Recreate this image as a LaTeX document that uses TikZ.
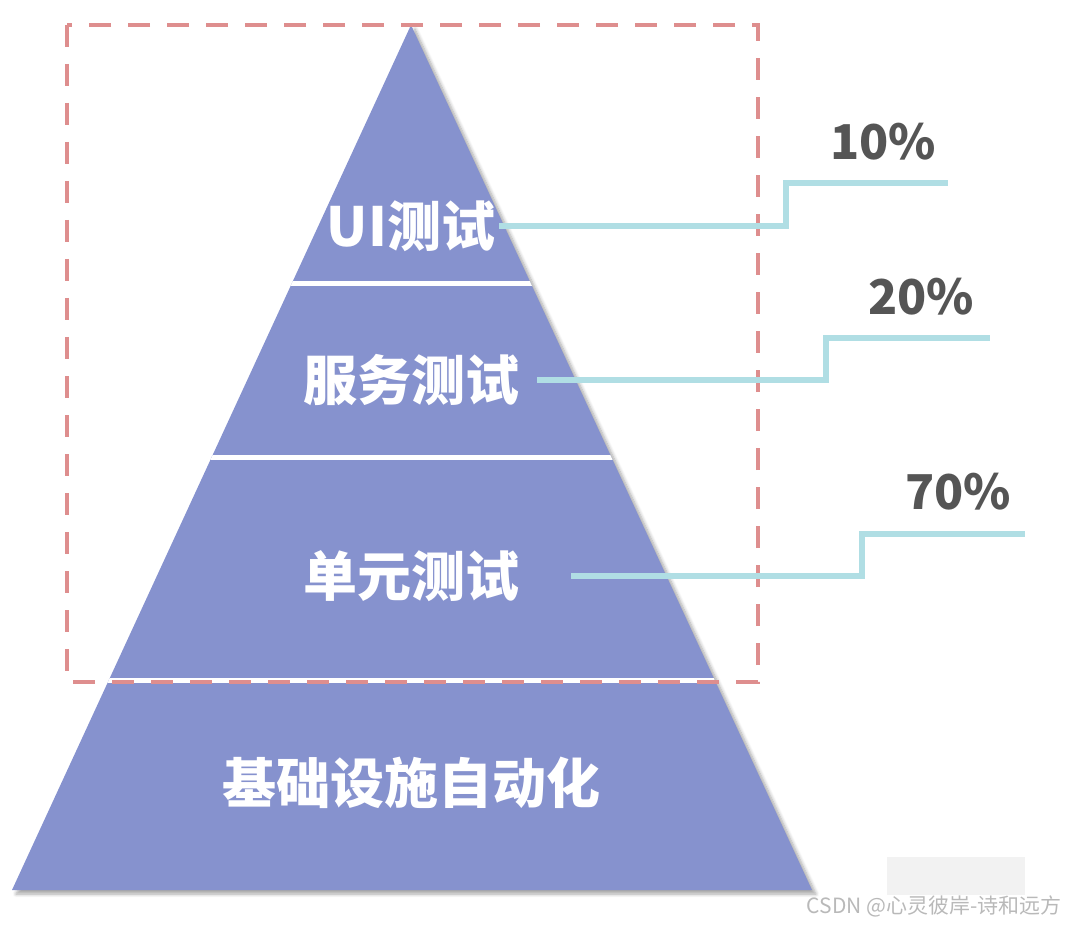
\documentclass[tikz,border=0pt]{standalone}
\usepackage{fontspec}
\newfontfamily\cjk{Noto Sans CJK SC}
\usetikzlibrary{shadows.blur}
\definecolor{pyrblue}{RGB}{134,146,206}
\definecolor{linkcyan}{RGB}{176,222,228}
\definecolor{boxred}{RGB}{222,142,142}
\definecolor{pctgray}{RGB}{85,85,85}
\tikzset{
  layer/.style={text=white, inner sep=2pt, font=\cjk\bfseries\fontsize{27}{27}\selectfont},
  pct/.style={text=pctgray, font=\cjk\bfseries\fontsize{24}{24}\selectfont},
  link/.style={linkcyan, line width=3pt},
  divider/.style={white, line width=2.5pt},
  frame/.style={boxred, line width=2.2pt, dash pattern=on 11pt off 8.5pt}
}

\begin{document}
\begin{tikzpicture}[x=0.5pt, y=-0.5pt]
  \useasboundingbox (0,0) rectangle (1068,924);
  % pyramid
  \fill[pyrblue, blur shadow={shadow xshift=2pt, shadow yshift=-2pt, shadow opacity=35, shadow blur steps=6}]
    (411,25) -- (812,890) -- (12,890) -- cycle;
  \begin{scope}
    \clip (411,25) -- (812,890) -- (12,890) -- cycle;
    \draw[divider] (0,284) -- (1068,284);
    \draw[divider] (0,457) -- (1068,457);
    \draw[divider] (0,680) -- (1068,680);
  \end{scope}
  \draw[frame] (67,25) rectangle (758,682);

  \node[layer] (ui) at (411,226) {UI测试};
  \node[layer] (svc) at (411,380) {服务测试};
  \node[layer] (unit) at (411,576) {单元测试};
  \node[layer] (infra) at (411,783) {基础设施自动化};

  \node[pct] (p10) at (883,142) {10\%};
  \node[pct] (p20) at (921,297) {20\%};
  \node[pct] (p70) at (958,492) {70\%};

  % connectors
  \coordinate (ui-step) at (786,183);
  \coordinate (ui-end) at (948,183);
  \coordinate (svc-step) at (826,338);
  \coordinate (svc-end) at (990,338);
  \coordinate (unit-step) at (862,534);
  \coordinate (unit-end) at (1025,534);
  \draw[link] (ui.east) -| (ui-step) -- (ui-end);
  \draw[link] ([xshift=7pt]svc.east) -| (svc-step) -- (svc-end);
  \draw[link] ([xshift=24pt]unit.east) -| (unit-step) -- (unit-end);

  % watermark
  \fill[gray!10] (887,857) rectangle (1025,895);
  \node[text=gray!55, anchor=south east, inner sep=0pt, font=\cjk\fontsize{10.5}{10.5}\selectfont] (mark) at (1062,918) {CSDN @心灵彼岸-诗和远方};
\end{tikzpicture}
\end{document}
